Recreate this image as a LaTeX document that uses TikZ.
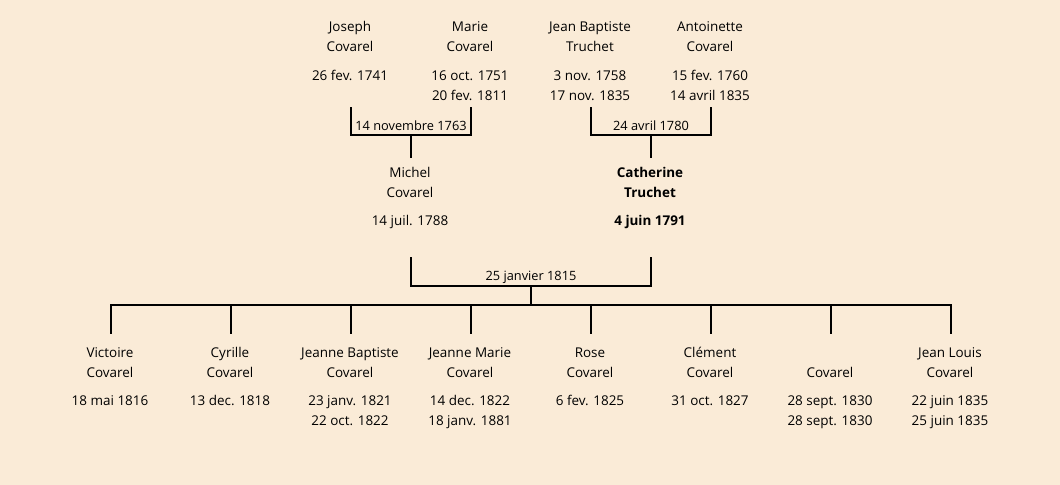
\documentclass[tikz,border=0pt]{standalone}
\usepackage{fontspec}
\setmainfont{Open Sans}
\definecolor{bgpeach}{RGB}{250,235,215}
\tikzset{
  txt/.style={anchor=base,inner sep=0pt,font=\fontsize{10.1}{12}\selectfont},
  boldtxt/.style={txt,font=\fontsize{10.1}{12}\selectfont\bfseries},
  marlab/.style={txt,font=\fontsize{9.6}{12}\selectfont},
  link/.style={line width=1.5pt,line cap=rect}
}
\newcommand{\persontxt}[8]{% style, id, x, y0, l1, l2, d1, d2 ; y0 = baseline of first line
  \node[#1] (#2-a) at (#3,#4) {#5};
  \node[#1] (#2-b) at (#3,#4+20) {#6};
  \node[#1] (#2-c) at (#3,#4+48) {#7};
  \node[#1] (#2-d) at (#3,#4+68) {#8};
}
\begin{document}
\begin{tikzpicture}[x=0.75pt,y=-0.75pt]
\fill[bgpeach] (0,0) rectangle (1060,485);
\useasboundingbox (0,0) rectangle (1060,485);
% parents generation
\persontxt{txt}{joseph}{350}{32}{Joseph}{Covarel}{26 fev. 1741}{}
\persontxt{txt}{marie}{470}{32}{Marie}{Covarel}{16 oct. 1751}{20 fev. 1811}
\persontxt{txt}{jb}{590}{32}{Jean Baptiste}{Truchet}{3 nov. 1758}{17 nov. 1835}
\persontxt{txt}{antoinette}{710}{32}{Antoinette}{Covarel}{15 fev. 1760}{14 avril 1835}
% marriage 1
\coordinate (m1a) at (351,108);
\coordinate (m1b) at (471,108);
\coordinate (m1h) at (411,135);
\coordinate (m1s) at (411,157);
\node[marlab] (m1lab) at (411,130) {14 novembre 1763};
\draw[link] (m1a) -- (m1a |- m1h) -- (m1b |- m1h) -- (m1b);
\draw[link] (m1h) -- (m1s);
% marriage 2
\coordinate (m2a) at (591,108);
\coordinate (m2b) at (711,108);
\coordinate (m2h) at (651,135);
\coordinate (m2s) at (651,157);
\node[marlab] (m2lab) at (651,130) {24 avril 1780};
\draw[link] (m2a) -- (m2a |- m2h) -- (m2b |- m2h) -- (m2b);
\draw[link] (m2h) -- (m2s);
% couple
\node[txt] (michel-a) at (410,177) {Michel};
\node[txt] (michel-b) at (410,197) {Covarel};
\node[txt] (michel-c) at (410,225) {14 juil. 1788};
\node[boldtxt] (cath-a) at (650,177) {Catherine};
\node[boldtxt] (cath-b) at (650,197) {Truchet};
\node[boldtxt] (cath-c) at (650,225) {4 juin 1791};
% marriage 3
\coordinate (m3a) at (411,258);
\coordinate (m3b) at (651,258);
\coordinate (m3h) at (531,286);
\coordinate (m3s) at (531,305);
\node[marlab] (m3lab) at (531,280) {25 janvier 1815};
\draw[link] (m3a) -- (m3a |- m3h) -- (m3b |- m3h) -- (m3b);
\draw[link] (m3h) -- (m3s);
% children bar
\coordinate (cl) at (111,305);
\coordinate (cr) at (951,305);
\draw[link] (cl) -- (cr);
\foreach \i/\xx in {1/111,2/231,3/351,4/471,5/591,6/711,7/831,8/951}{
  \coordinate (ct\i) at (\xx,305);
  \coordinate (cb\i) at (\xx,333);
  \draw[link] (ct\i) -- (cb\i);
}
% children
\persontxt{txt}{c1}{110}{357}{Victoire}{Covarel}{18 mai 1816}{}
\persontxt{txt}{c2}{230}{357}{Cyrille}{Covarel}{13 dec. 1818}{}
\persontxt{txt}{c3}{350}{357}{Jeanne Baptiste}{Covarel}{23 janv. 1821}{22 oct. 1822}
\persontxt{txt}{c4}{470}{357}{Jeanne Marie}{Covarel}{14 dec. 1822}{18 janv. 1881}
\persontxt{txt}{c5}{590}{357}{Rose}{Covarel}{6 fev. 1825}{}
\persontxt{txt}{c6}{710}{357}{Clément}{Covarel}{31 oct. 1827}{}
\persontxt{txt}{c7}{830}{357}{}{Covarel}{28 sept. 1830}{28 sept. 1830}
\persontxt{txt}{c8}{950}{357}{Jean Louis}{Covarel}{22 juin 1835}{25 juin 1835}
\end{tikzpicture}
\end{document}
